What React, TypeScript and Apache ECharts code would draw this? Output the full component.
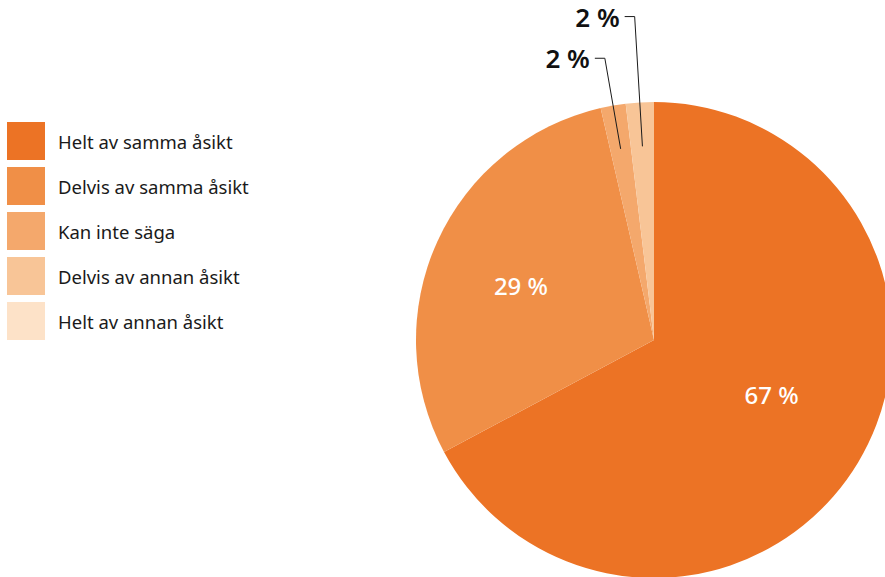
import React, { useEffect, useRef } from "react";
import * as echarts from "echarts";

const categories = [
  "Helt av samma åsikt",
  "Delvis av samma åsikt",
  "Kan inte säga",
  "Delvis av annan åsikt",
  "Helt av annan åsikt",
];
const values = [67.2, 29.2, 1.7, 1.9, 0];
const colors = ["#EC7325", "#F08F47", "#F4A86C", "#F8C597", "#FDE2C8"];
const insideLabelShown = [true, true, false, false, false];
const outsideLabelShown = [false, false, true, true, false];
const insideOffsets: number[][] = [[13, -8], [-22, -4], [0, 0], [0, 0], [0, 0]];
const leaderLengths = [0, 0, 92, 130, 0];

const FONT = "'Noto Sans', 'DejaVu Sans', sans-serif";

const fmt = (p: any) => `${Math.round(p.value)} %`;

export default function App() {
  const ref = useRef<HTMLDivElement>(null);
  useEffect(() => {
    document.body.style.margin = "0";
    const chart = echarts.init(ref.current!, null, { renderer: "svg" });
    chart.setOption({
      animation: false,
      backgroundColor: "#ffffff",
      legend: {
        orient: "vertical",
        left: 7,
        top: 122,
        padding: 0,
        itemWidth: 38,
        itemHeight: 38,
        itemGap: 7,
        icon: "rect",
        selectedMode: false,
        itemStyle: { borderWidth: 0 },
        data: categories,
        textStyle: {
          fontFamily: FONT,
          fontSize: 18.5,
          color: "#1a1a1a",
          padding: [0, 0, 0, 8],
        },
      },
      series: [
        {
          type: "pie",
          z: 2,
          center: [654, 340],
          radius: [0, 238],
          startAngle: 90,
          clockwise: true,
          silent: true,
          label: { show: false },
          labelLine: { show: false },
          itemStyle: { borderWidth: 0 },
          data: categories.map((name, i) => ({
            name,
            value: values[i],
            itemStyle: { color: colors[i] },
            label: {
              show: insideLabelShown[i],
              position: "inside",
              formatter: fmt,
              color: "#ffffff",
              fontFamily: FONT,
              fontSize: 24,
              fontWeight: 500,
              offset: insideOffsets[i],
            },
          })),
        },
        {
          type: "pie",
          z: 5,
          center: [654, 340],
          radius: [0, 194],
          startAngle: 90,
          clockwise: true,
          silent: true,
          legendHoverLink: false,
          itemStyle: { color: "rgba(0,0,0,0)", borderWidth: 0 },
          label: { show: false },
          labelLine: { show: false },
          data: categories.map((name, i) => ({
            name,
            value: values[i],
            itemStyle: { color: "rgba(0,0,0,0)" },
            label: {
              show: outsideLabelShown[i],
              position: "outside",
              formatter: fmt,
              color: "#111111",
              fontFamily: FONT,
              fontSize: 26,
              fontWeight: 600,
              distanceToLabelLine: 5,
            },
            labelLine: {
              show: outsideLabelShown[i],
              length: leaderLengths[i],
              length2: 10,
              lineStyle: { color: "#1a1a1a", width: 1 },
            },
          })),
        },
      ],
    });
    return () => chart.dispose();
  }, []);
  return <div ref={ref} style={{ width: 885, height: 577 }} />;
}
